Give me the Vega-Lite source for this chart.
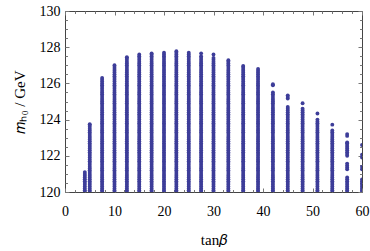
{
  "$schema": "https://vega.github.io/schema/vega-lite/v6.json",
  "width": 297,
  "height": 181,
  "autosize": {"type": "none"},
  "padding": {"left": 65, "top": 11, "right": 8, "bottom": 59},
  "background": "white",
  "config": {
    "view": {"stroke": "#444444", "strokeWidth": 1},
    "axis": {
      "grid": false,
      "domain": false,
      "labelFont": "Liberation Serif",
      "labelFontSize": 14,
      "labelColor": "#000000",
      "titleFont": "Liberation Serif",
      "titleFontSize": 15,
      "titleFontWeight": "normal",
      "titleColor": "#000000",
      "tickColor": "#777777",
      "tickWidth": 1
    }
  },
  "datasets": {
    "pts": [
      {"t":4,"m":120},{"t":4,"m":120.1},{"t":4,"m":120.2},{"t":4,"m":120.3},{"t":4,"m":120.4},{"t":4,"m":120.5},{"t":4,"m":120.6},{"t":4,"m":120.7},{"t":4,"m":120.8},{"t":4,"m":120.9},{"t":4,"m":121},{"t":4,"m":121.1},
      {"t":5,"m":120},{"t":5,"m":120.1},{"t":5,"m":120.2},{"t":5,"m":120.3},{"t":5,"m":120.4},{"t":5,"m":120.5},{"t":5,"m":120.6},{"t":5,"m":120.7},{"t":5,"m":120.8},{"t":5,"m":120.9},{"t":5,"m":121},{"t":5,"m":121.1},{"t":5,"m":121.2},{"t":5,"m":121.3},{"t":5,"m":121.4},{"t":5,"m":121.5},{"t":5,"m":121.6},{"t":5,"m":121.7},{"t":5,"m":121.8},{"t":5,"m":121.9},{"t":5,"m":122},{"t":5,"m":122.1},{"t":5,"m":122.2},{"t":5,"m":122.3},{"t":5,"m":122.4},{"t":5,"m":122.5},{"t":5,"m":122.6},{"t":5,"m":122.7},{"t":5,"m":122.8},{"t":5,"m":122.9},{"t":5,"m":123},{"t":5,"m":123.1},{"t":5,"m":123.2},{"t":5,"m":123.3},{"t":5,"m":123.4},{"t":5,"m":123.5},{"t":5,"m":123.6},{"t":5,"m":123.7},{"t":5,"m":123.75},
      {"t":7.5,"m":120},{"t":7.5,"m":120.1},{"t":7.5,"m":120.2},{"t":7.5,"m":120.3},{"t":7.5,"m":120.4},{"t":7.5,"m":120.5},{"t":7.5,"m":120.6},{"t":7.5,"m":120.7},{"t":7.5,"m":120.8},{"t":7.5,"m":120.9},{"t":7.5,"m":121},{"t":7.5,"m":121.1},{"t":7.5,"m":121.2},{"t":7.5,"m":121.3},{"t":7.5,"m":121.4},{"t":7.5,"m":121.5},{"t":7.5,"m":121.6},{"t":7.5,"m":121.7},{"t":7.5,"m":121.8},{"t":7.5,"m":121.9},{"t":7.5,"m":122},{"t":7.5,"m":122.1},{"t":7.5,"m":122.2},{"t":7.5,"m":122.3},{"t":7.5,"m":122.4},{"t":7.5,"m":122.5},{"t":7.5,"m":122.6},{"t":7.5,"m":122.7},{"t":7.5,"m":122.8},{"t":7.5,"m":122.9},{"t":7.5,"m":123},{"t":7.5,"m":123.1},{"t":7.5,"m":123.2},{"t":7.5,"m":123.3},{"t":7.5,"m":123.4},{"t":7.5,"m":123.5},{"t":7.5,"m":123.6},{"t":7.5,"m":123.7},{"t":7.5,"m":123.8},{"t":7.5,"m":123.9},{"t":7.5,"m":124},{"t":7.5,"m":124.1},{"t":7.5,"m":124.2},{"t":7.5,"m":124.3},{"t":7.5,"m":124.4},{"t":7.5,"m":124.5},{"t":7.5,"m":124.6},{"t":7.5,"m":124.7},{"t":7.5,"m":124.8},{"t":7.5,"m":124.9},{"t":7.5,"m":125},{"t":7.5,"m":125.1},{"t":7.5,"m":125.2},{"t":7.5,"m":125.3},{"t":7.5,"m":125.4},{"t":7.5,"m":125.5},{"t":7.5,"m":125.6},{"t":7.5,"m":125.7},{"t":7.5,"m":125.8},{"t":7.5,"m":125.9},{"t":7.5,"m":126},{"t":7.5,"m":126.1},{"t":7.5,"m":126.2},{"t":7.5,"m":126.3},
      {"t":10,"m":120},{"t":10,"m":120.1},{"t":10,"m":120.2},{"t":10,"m":120.3},{"t":10,"m":120.4},{"t":10,"m":120.5},{"t":10,"m":120.6},{"t":10,"m":120.7},{"t":10,"m":120.8},{"t":10,"m":120.9},{"t":10,"m":121},{"t":10,"m":121.1},{"t":10,"m":121.2},{"t":10,"m":121.3},{"t":10,"m":121.4},{"t":10,"m":121.5},{"t":10,"m":121.6},{"t":10,"m":121.7},{"t":10,"m":121.8},{"t":10,"m":121.9},{"t":10,"m":122},{"t":10,"m":122.1},{"t":10,"m":122.2},{"t":10,"m":122.3},{"t":10,"m":122.4},{"t":10,"m":122.5},{"t":10,"m":122.6},{"t":10,"m":122.7},{"t":10,"m":122.8},{"t":10,"m":122.9},{"t":10,"m":123},{"t":10,"m":123.1},{"t":10,"m":123.2},{"t":10,"m":123.3},{"t":10,"m":123.4},{"t":10,"m":123.5},{"t":10,"m":123.6},{"t":10,"m":123.7},{"t":10,"m":123.8},{"t":10,"m":123.9},{"t":10,"m":124},{"t":10,"m":124.1},{"t":10,"m":124.2},{"t":10,"m":124.3},{"t":10,"m":124.4},{"t":10,"m":124.5},{"t":10,"m":124.6},{"t":10,"m":124.7},{"t":10,"m":124.8},{"t":10,"m":124.9},{"t":10,"m":125},{"t":10,"m":125.1},{"t":10,"m":125.2},{"t":10,"m":125.3},{"t":10,"m":125.4},{"t":10,"m":125.5},{"t":10,"m":125.6},{"t":10,"m":125.7},{"t":10,"m":125.8},{"t":10,"m":125.9},{"t":10,"m":126},{"t":10,"m":126.1},{"t":10,"m":126.2},{"t":10,"m":126.3},{"t":10,"m":126.4},{"t":10,"m":126.5},{"t":10,"m":126.6},{"t":10,"m":126.7},{"t":10,"m":126.8},{"t":10,"m":126.9},{"t":10,"m":127},
      {"t":12.5,"m":120},{"t":12.5,"m":120.1},{"t":12.5,"m":120.2},{"t":12.5,"m":120.3},{"t":12.5,"m":120.4},{"t":12.5,"m":120.5},{"t":12.5,"m":120.6},{"t":12.5,"m":120.7},{"t":12.5,"m":120.8},{"t":12.5,"m":120.9},{"t":12.5,"m":121},{"t":12.5,"m":121.1},{"t":12.5,"m":121.2},{"t":12.5,"m":121.3},{"t":12.5,"m":121.4},{"t":12.5,"m":121.5},{"t":12.5,"m":121.6},{"t":12.5,"m":121.7},{"t":12.5,"m":121.8},{"t":12.5,"m":121.9},{"t":12.5,"m":122},{"t":12.5,"m":122.1},{"t":12.5,"m":122.2},{"t":12.5,"m":122.3},{"t":12.5,"m":122.4},{"t":12.5,"m":122.5},{"t":12.5,"m":122.6},{"t":12.5,"m":122.7},{"t":12.5,"m":122.8},{"t":12.5,"m":122.9},{"t":12.5,"m":123},{"t":12.5,"m":123.1},{"t":12.5,"m":123.2},{"t":12.5,"m":123.3},{"t":12.5,"m":123.4},{"t":12.5,"m":123.5},{"t":12.5,"m":123.6},{"t":12.5,"m":123.7},{"t":12.5,"m":123.8},{"t":12.5,"m":123.9},{"t":12.5,"m":124},{"t":12.5,"m":124.1},{"t":12.5,"m":124.2},{"t":12.5,"m":124.3},{"t":12.5,"m":124.4},{"t":12.5,"m":124.5},{"t":12.5,"m":124.6},{"t":12.5,"m":124.7},{"t":12.5,"m":124.8},{"t":12.5,"m":124.9},{"t":12.5,"m":125},{"t":12.5,"m":125.1},{"t":12.5,"m":125.2},{"t":12.5,"m":125.3},{"t":12.5,"m":125.4},{"t":12.5,"m":125.5},{"t":12.5,"m":125.6},{"t":12.5,"m":125.7},{"t":12.5,"m":125.8},{"t":12.5,"m":125.9},{"t":12.5,"m":126},{"t":12.5,"m":126.1},{"t":12.5,"m":126.2},{"t":12.5,"m":126.3},{"t":12.5,"m":126.4},{"t":12.5,"m":126.5},{"t":12.5,"m":126.6},{"t":12.5,"m":126.7},{"t":12.5,"m":126.8},{"t":12.5,"m":126.9},{"t":12.5,"m":127},{"t":12.5,"m":127.1},{"t":12.5,"m":127.2},{"t":12.5,"m":127.3},{"t":12.5,"m":127.4},{"t":12.5,"m":127.45},
      {"t":15,"m":120},{"t":15,"m":120.1},{"t":15,"m":120.2},{"t":15,"m":120.3},{"t":15,"m":120.4},{"t":15,"m":120.5},{"t":15,"m":120.6},{"t":15,"m":120.7},{"t":15,"m":120.8},{"t":15,"m":120.9},{"t":15,"m":121},{"t":15,"m":121.1},{"t":15,"m":121.2},{"t":15,"m":121.3},{"t":15,"m":121.4},{"t":15,"m":121.5},{"t":15,"m":121.6},{"t":15,"m":121.7},{"t":15,"m":121.8},{"t":15,"m":121.9},{"t":15,"m":122},{"t":15,"m":122.1},{"t":15,"m":122.2},{"t":15,"m":122.3},{"t":15,"m":122.4},{"t":15,"m":122.5},{"t":15,"m":122.6},{"t":15,"m":122.7},{"t":15,"m":122.8},{"t":15,"m":122.9},{"t":15,"m":123},{"t":15,"m":123.1},{"t":15,"m":123.2},{"t":15,"m":123.3},{"t":15,"m":123.4},{"t":15,"m":123.5},{"t":15,"m":123.6},{"t":15,"m":123.7},{"t":15,"m":123.8},{"t":15,"m":123.9},{"t":15,"m":124},{"t":15,"m":124.1},{"t":15,"m":124.2},{"t":15,"m":124.3},{"t":15,"m":124.4},{"t":15,"m":124.5},{"t":15,"m":124.6},{"t":15,"m":124.7},{"t":15,"m":124.8},{"t":15,"m":124.9},{"t":15,"m":125},{"t":15,"m":125.1},{"t":15,"m":125.2},{"t":15,"m":125.3},{"t":15,"m":125.4},{"t":15,"m":125.5},{"t":15,"m":125.6},{"t":15,"m":125.7},{"t":15,"m":125.8},{"t":15,"m":125.9},{"t":15,"m":126},{"t":15,"m":126.1},{"t":15,"m":126.2},{"t":15,"m":126.3},{"t":15,"m":126.4},{"t":15,"m":126.5},{"t":15,"m":126.6},{"t":15,"m":126.7},{"t":15,"m":126.8},{"t":15,"m":126.9},{"t":15,"m":127},{"t":15,"m":127.1},{"t":15,"m":127.2},{"t":15,"m":127.3},{"t":15,"m":127.4},{"t":15,"m":127.5},{"t":15,"m":127.6},
      {"t":17.5,"m":120},{"t":17.5,"m":120.1},{"t":17.5,"m":120.2},{"t":17.5,"m":120.3},{"t":17.5,"m":120.4},{"t":17.5,"m":120.5},{"t":17.5,"m":120.6},{"t":17.5,"m":120.7},{"t":17.5,"m":120.8},{"t":17.5,"m":120.9},{"t":17.5,"m":121},{"t":17.5,"m":121.1},{"t":17.5,"m":121.2},{"t":17.5,"m":121.3},{"t":17.5,"m":121.4},{"t":17.5,"m":121.5},{"t":17.5,"m":121.6},{"t":17.5,"m":121.7},{"t":17.5,"m":121.8},{"t":17.5,"m":121.9},{"t":17.5,"m":122},{"t":17.5,"m":122.1},{"t":17.5,"m":122.2},{"t":17.5,"m":122.3},{"t":17.5,"m":122.4},{"t":17.5,"m":122.5},{"t":17.5,"m":122.6},{"t":17.5,"m":122.7},{"t":17.5,"m":122.8},{"t":17.5,"m":122.9},{"t":17.5,"m":123},{"t":17.5,"m":123.1},{"t":17.5,"m":123.2},{"t":17.5,"m":123.3},{"t":17.5,"m":123.4},{"t":17.5,"m":123.5},{"t":17.5,"m":123.6},{"t":17.5,"m":123.7},{"t":17.5,"m":123.8},{"t":17.5,"m":123.9},{"t":17.5,"m":124},{"t":17.5,"m":124.1},{"t":17.5,"m":124.2},{"t":17.5,"m":124.3},{"t":17.5,"m":124.4},{"t":17.5,"m":124.5},{"t":17.5,"m":124.6},{"t":17.5,"m":124.7},{"t":17.5,"m":124.8},{"t":17.5,"m":124.9},{"t":17.5,"m":125},{"t":17.5,"m":125.1},{"t":17.5,"m":125.2},{"t":17.5,"m":125.3},{"t":17.5,"m":125.4},{"t":17.5,"m":125.5},{"t":17.5,"m":125.6},{"t":17.5,"m":125.7},{"t":17.5,"m":125.8},{"t":17.5,"m":125.9},{"t":17.5,"m":126},{"t":17.5,"m":126.1},{"t":17.5,"m":126.2},{"t":17.5,"m":126.3},{"t":17.5,"m":126.4},{"t":17.5,"m":126.5},{"t":17.5,"m":126.6},{"t":17.5,"m":126.7},{"t":17.5,"m":126.8},{"t":17.5,"m":126.9},{"t":17.5,"m":127},{"t":17.5,"m":127.1},{"t":17.5,"m":127.2},{"t":17.5,"m":127.3},{"t":17.5,"m":127.4},{"t":17.5,"m":127.5},{"t":17.5,"m":127.6},{"t":17.5,"m":127.66},
      {"t":20,"m":120},{"t":20,"m":120.1},{"t":20,"m":120.2},{"t":20,"m":120.3},{"t":20,"m":120.4},{"t":20,"m":120.5},{"t":20,"m":120.6},{"t":20,"m":120.7},{"t":20,"m":120.8},{"t":20,"m":120.9},{"t":20,"m":121},{"t":20,"m":121.1},{"t":20,"m":121.2},{"t":20,"m":121.3},{"t":20,"m":121.4},{"t":20,"m":121.5},{"t":20,"m":121.6},{"t":20,"m":121.7},{"t":20,"m":121.8},{"t":20,"m":121.9},{"t":20,"m":122},{"t":20,"m":122.1},{"t":20,"m":122.2},{"t":20,"m":122.3},{"t":20,"m":122.4},{"t":20,"m":122.5},{"t":20,"m":122.6},{"t":20,"m":122.7},{"t":20,"m":122.8},{"t":20,"m":122.9},{"t":20,"m":123},{"t":20,"m":123.1},{"t":20,"m":123.2},{"t":20,"m":123.3},{"t":20,"m":123.4},{"t":20,"m":123.5},{"t":20,"m":123.6},{"t":20,"m":123.7},{"t":20,"m":123.8},{"t":20,"m":123.9},{"t":20,"m":124},{"t":20,"m":124.1},{"t":20,"m":124.2},{"t":20,"m":124.3},{"t":20,"m":124.4},{"t":20,"m":124.5},{"t":20,"m":124.6},{"t":20,"m":124.7},{"t":20,"m":124.8},{"t":20,"m":124.9},{"t":20,"m":125},{"t":20,"m":125.1},{"t":20,"m":125.2},{"t":20,"m":125.3},{"t":20,"m":125.4},{"t":20,"m":125.5},{"t":20,"m":125.6},{"t":20,"m":125.7},{"t":20,"m":125.8},{"t":20,"m":125.9},{"t":20,"m":126},{"t":20,"m":126.1},{"t":20,"m":126.2},{"t":20,"m":126.3},{"t":20,"m":126.4},{"t":20,"m":126.5},{"t":20,"m":126.6},{"t":20,"m":126.7},{"t":20,"m":126.8},{"t":20,"m":126.9},{"t":20,"m":127},{"t":20,"m":127.1},{"t":20,"m":127.2},{"t":20,"m":127.3},{"t":20,"m":127.4},{"t":20,"m":127.5},{"t":20,"m":127.6},{"t":20,"m":127.7},
      {"t":22.5,"m":120},{"t":22.5,"m":120.1},{"t":22.5,"m":120.2},{"t":22.5,"m":120.3},{"t":22.5,"m":120.4},{"t":22.5,"m":120.5},{"t":22.5,"m":120.6},{"t":22.5,"m":120.7},{"t":22.5,"m":120.8},{"t":22.5,"m":120.9},{"t":22.5,"m":121},{"t":22.5,"m":121.1},{"t":22.5,"m":121.2},{"t":22.5,"m":121.3},{"t":22.5,"m":121.4},{"t":22.5,"m":121.5},{"t":22.5,"m":121.6},{"t":22.5,"m":121.7},{"t":22.5,"m":121.8},{"t":22.5,"m":121.9},{"t":22.5,"m":122},{"t":22.5,"m":122.1},{"t":22.5,"m":122.2},{"t":22.5,"m":122.3},{"t":22.5,"m":122.4},{"t":22.5,"m":122.5},{"t":22.5,"m":122.6},{"t":22.5,"m":122.7},{"t":22.5,"m":122.8},{"t":22.5,"m":122.9},{"t":22.5,"m":123},{"t":22.5,"m":123.1},{"t":22.5,"m":123.2},{"t":22.5,"m":123.3},{"t":22.5,"m":123.4},{"t":22.5,"m":123.5},{"t":22.5,"m":123.6},{"t":22.5,"m":123.7},{"t":22.5,"m":123.8},{"t":22.5,"m":123.9},{"t":22.5,"m":124},{"t":22.5,"m":124.1},{"t":22.5,"m":124.2},{"t":22.5,"m":124.3},{"t":22.5,"m":124.4},{"t":22.5,"m":124.5},{"t":22.5,"m":124.6},{"t":22.5,"m":124.7},{"t":22.5,"m":124.8},{"t":22.5,"m":124.9},{"t":22.5,"m":125},{"t":22.5,"m":125.1},{"t":22.5,"m":125.2},{"t":22.5,"m":125.3},{"t":22.5,"m":125.4},{"t":22.5,"m":125.5},{"t":22.5,"m":125.6},{"t":22.5,"m":125.7},{"t":22.5,"m":125.8},{"t":22.5,"m":125.9},{"t":22.5,"m":126},{"t":22.5,"m":126.1},{"t":22.5,"m":126.2},{"t":22.5,"m":126.3},{"t":22.5,"m":126.4},{"t":22.5,"m":126.5},{"t":22.5,"m":126.6},{"t":22.5,"m":126.7},{"t":22.5,"m":126.8},{"t":22.5,"m":126.9},{"t":22.5,"m":127},{"t":22.5,"m":127.1},{"t":22.5,"m":127.2},{"t":22.5,"m":127.3},{"t":22.5,"m":127.4},{"t":22.5,"m":127.5},{"t":22.5,"m":127.6},{"t":22.5,"m":127.7},{"t":22.5,"m":127.78},
      {"t":25,"m":120},{"t":25,"m":120.1},{"t":25,"m":120.2},{"t":25,"m":120.3},{"t":25,"m":120.4},{"t":25,"m":120.5},{"t":25,"m":120.6},{"t":25,"m":120.7},{"t":25,"m":120.8},{"t":25,"m":120.9},{"t":25,"m":121},{"t":25,"m":121.1},{"t":25,"m":121.2},{"t":25,"m":121.3},{"t":25,"m":121.4},{"t":25,"m":121.5},{"t":25,"m":121.6},{"t":25,"m":121.7},{"t":25,"m":121.8},{"t":25,"m":121.9},{"t":25,"m":122},{"t":25,"m":122.1},{"t":25,"m":122.2},{"t":25,"m":122.3},{"t":25,"m":122.4},{"t":25,"m":122.5},{"t":25,"m":122.6},{"t":25,"m":122.7},{"t":25,"m":122.8},{"t":25,"m":122.9},{"t":25,"m":123},{"t":25,"m":123.1},{"t":25,"m":123.2},{"t":25,"m":123.3},{"t":25,"m":123.4},{"t":25,"m":123.5},{"t":25,"m":123.6},{"t":25,"m":123.7},{"t":25,"m":123.8},{"t":25,"m":123.9},{"t":25,"m":124},{"t":25,"m":124.1},{"t":25,"m":124.2},{"t":25,"m":124.3},{"t":25,"m":124.4},{"t":25,"m":124.5},{"t":25,"m":124.6},{"t":25,"m":124.7},{"t":25,"m":124.8},{"t":25,"m":124.9},{"t":25,"m":125},{"t":25,"m":125.1},{"t":25,"m":125.2},{"t":25,"m":125.3},{"t":25,"m":125.4},{"t":25,"m":125.5},{"t":25,"m":125.6},{"t":25,"m":125.7},{"t":25,"m":125.8},{"t":25,"m":125.9},{"t":25,"m":126},{"t":25,"m":126.1},{"t":25,"m":126.2},{"t":25,"m":126.3},{"t":25,"m":126.4},{"t":25,"m":126.5},{"t":25,"m":126.6},{"t":25,"m":126.7},{"t":25,"m":126.8},{"t":25,"m":126.9},{"t":25,"m":127},{"t":25,"m":127.1},{"t":25,"m":127.2},{"t":25,"m":127.3},{"t":25,"m":127.4},{"t":25,"m":127.5},{"t":25,"m":127.6},{"t":25,"m":127.7},
      {"t":27.5,"m":120},{"t":27.5,"m":120.1},{"t":27.5,"m":120.2},{"t":27.5,"m":120.3},{"t":27.5,"m":120.4},{"t":27.5,"m":120.5},{"t":27.5,"m":120.6},{"t":27.5,"m":120.7},{"t":27.5,"m":120.8},{"t":27.5,"m":120.9},{"t":27.5,"m":121},{"t":27.5,"m":121.1},{"t":27.5,"m":121.2},{"t":27.5,"m":121.3},{"t":27.5,"m":121.4},{"t":27.5,"m":121.5},{"t":27.5,"m":121.6},{"t":27.5,"m":121.7},{"t":27.5,"m":121.8},{"t":27.5,"m":121.9},{"t":27.5,"m":122},{"t":27.5,"m":122.1},{"t":27.5,"m":122.2},{"t":27.5,"m":122.3},{"t":27.5,"m":122.4},{"t":27.5,"m":122.5},{"t":27.5,"m":122.6},{"t":27.5,"m":122.7},{"t":27.5,"m":122.8},{"t":27.5,"m":122.9},{"t":27.5,"m":123},{"t":27.5,"m":123.1},{"t":27.5,"m":123.2},{"t":27.5,"m":123.3},{"t":27.5,"m":123.4},{"t":27.5,"m":123.5},{"t":27.5,"m":123.6},{"t":27.5,"m":123.7},{"t":27.5,"m":123.8},{"t":27.5,"m":123.9},{"t":27.5,"m":124},{"t":27.5,"m":124.1},{"t":27.5,"m":124.2},{"t":27.5,"m":124.3},{"t":27.5,"m":124.4},{"t":27.5,"m":124.5},{"t":27.5,"m":124.6},{"t":27.5,"m":124.7},{"t":27.5,"m":124.8},{"t":27.5,"m":124.9},{"t":27.5,"m":125},{"t":27.5,"m":125.1},{"t":27.5,"m":125.2},{"t":27.5,"m":125.3},{"t":27.5,"m":125.4},{"t":27.5,"m":125.5},{"t":27.5,"m":125.6},{"t":27.5,"m":125.7},{"t":27.5,"m":125.8},{"t":27.5,"m":125.9},{"t":27.5,"m":126},{"t":27.5,"m":126.1},{"t":27.5,"m":126.2},{"t":27.5,"m":126.3},{"t":27.5,"m":126.4},{"t":27.5,"m":126.5},{"t":27.5,"m":126.6},{"t":27.5,"m":126.7},{"t":27.5,"m":126.8},{"t":27.5,"m":126.9},{"t":27.5,"m":127},{"t":27.5,"m":127.1},{"t":27.5,"m":127.2},{"t":27.5,"m":127.3},{"t":27.5,"m":127.4},{"t":27.5,"m":127.5},{"t":27.5,"m":127.66},
      {"t":30,"m":120},{"t":30,"m":120.1},{"t":30,"m":120.2},{"t":30,"m":120.3},{"t":30,"m":120.4},{"t":30,"m":120.5},{"t":30,"m":120.6},{"t":30,"m":120.7},{"t":30,"m":120.8},{"t":30,"m":120.9},{"t":30,"m":121},{"t":30,"m":121.1},{"t":30,"m":121.2},{"t":30,"m":121.3},{"t":30,"m":121.4},{"t":30,"m":121.5},{"t":30,"m":121.6},{"t":30,"m":121.7},{"t":30,"m":121.8},{"t":30,"m":121.9},{"t":30,"m":122},{"t":30,"m":122.1},{"t":30,"m":122.2},{"t":30,"m":122.3},{"t":30,"m":122.4},{"t":30,"m":122.5},{"t":30,"m":122.6},{"t":30,"m":122.7},{"t":30,"m":122.8},{"t":30,"m":122.9},{"t":30,"m":123},{"t":30,"m":123.1},{"t":30,"m":123.2},{"t":30,"m":123.3},{"t":30,"m":123.4},{"t":30,"m":123.5},{"t":30,"m":123.6},{"t":30,"m":123.7},{"t":30,"m":123.8},{"t":30,"m":123.9},{"t":30,"m":124},{"t":30,"m":124.1},{"t":30,"m":124.2},{"t":30,"m":124.3},{"t":30,"m":124.4},{"t":30,"m":124.5},{"t":30,"m":124.6},{"t":30,"m":124.7},{"t":30,"m":124.8},{"t":30,"m":124.9},{"t":30,"m":125},{"t":30,"m":125.1},{"t":30,"m":125.2},{"t":30,"m":125.3},{"t":30,"m":125.4},{"t":30,"m":125.5},{"t":30,"m":125.6},{"t":30,"m":125.7},{"t":30,"m":125.8},{"t":30,"m":125.9},{"t":30,"m":126},{"t":30,"m":126.1},{"t":30,"m":126.2},{"t":30,"m":126.3},{"t":30,"m":126.4},{"t":30,"m":126.5},{"t":30,"m":126.6},{"t":30,"m":126.7},{"t":30,"m":126.8},{"t":30,"m":126.9},{"t":30,"m":127},{"t":30,"m":127.1},{"t":30,"m":127.2},{"t":30,"m":127.3},{"t":30,"m":127.4},{"t":30,"m":127.6},
      {"t":33,"m":120},{"t":33,"m":120.1},{"t":33,"m":120.2},{"t":33,"m":120.3},{"t":33,"m":120.4},{"t":33,"m":120.5},{"t":33,"m":120.6},{"t":33,"m":120.7},{"t":33,"m":120.8},{"t":33,"m":120.9},{"t":33,"m":121},{"t":33,"m":121.1},{"t":33,"m":121.2},{"t":33,"m":121.3},{"t":33,"m":121.4},{"t":33,"m":121.5},{"t":33,"m":121.6},{"t":33,"m":121.7},{"t":33,"m":121.8},{"t":33,"m":121.9},{"t":33,"m":122},{"t":33,"m":122.1},{"t":33,"m":122.2},{"t":33,"m":122.3},{"t":33,"m":122.4},{"t":33,"m":122.5},{"t":33,"m":122.6},{"t":33,"m":122.7},{"t":33,"m":122.8},{"t":33,"m":122.9},{"t":33,"m":123},{"t":33,"m":123.1},{"t":33,"m":123.2},{"t":33,"m":123.3},{"t":33,"m":123.4},{"t":33,"m":123.5},{"t":33,"m":123.6},{"t":33,"m":123.7},{"t":33,"m":123.8},{"t":33,"m":123.9},{"t":33,"m":124},{"t":33,"m":124.1},{"t":33,"m":124.2},{"t":33,"m":124.3},{"t":33,"m":124.4},{"t":33,"m":124.5},{"t":33,"m":124.6},{"t":33,"m":124.7},{"t":33,"m":124.8},{"t":33,"m":124.9},{"t":33,"m":125},{"t":33,"m":125.1},{"t":33,"m":125.2},{"t":33,"m":125.3},{"t":33,"m":125.4},{"t":33,"m":125.5},{"t":33,"m":125.6},{"t":33,"m":125.7},{"t":33,"m":125.8},{"t":33,"m":125.9},{"t":33,"m":126},{"t":33,"m":126.1},{"t":33,"m":126.2},{"t":33,"m":126.3},{"t":33,"m":126.4},{"t":33,"m":126.5},{"t":33,"m":126.6},{"t":33,"m":126.7},{"t":33,"m":126.8},{"t":33,"m":126.9},{"t":33,"m":127},{"t":33,"m":127.1},{"t":33,"m":127.2},{"t":33,"m":127.28},
      {"t":36,"m":120},{"t":36,"m":120.1},{"t":36,"m":120.2},{"t":36,"m":120.3},{"t":36,"m":120.4},{"t":36,"m":120.5},{"t":36,"m":120.6},{"t":36,"m":120.7},{"t":36,"m":120.8},{"t":36,"m":120.9},{"t":36,"m":121},{"t":36,"m":121.1},{"t":36,"m":121.2},{"t":36,"m":121.3},{"t":36,"m":121.4},{"t":36,"m":121.5},{"t":36,"m":121.6},{"t":36,"m":121.7},{"t":36,"m":121.8},{"t":36,"m":121.9},{"t":36,"m":122},{"t":36,"m":122.1},{"t":36,"m":122.2},{"t":36,"m":122.3},{"t":36,"m":122.4},{"t":36,"m":122.5},{"t":36,"m":122.6},{"t":36,"m":122.7},{"t":36,"m":122.8},{"t":36,"m":122.9},{"t":36,"m":123},{"t":36,"m":123.1},{"t":36,"m":123.2},{"t":36,"m":123.3},{"t":36,"m":123.4},{"t":36,"m":123.5},{"t":36,"m":123.6},{"t":36,"m":123.7},{"t":36,"m":123.8},{"t":36,"m":123.9},{"t":36,"m":124},{"t":36,"m":124.1},{"t":36,"m":124.2},{"t":36,"m":124.3},{"t":36,"m":124.4},{"t":36,"m":124.5},{"t":36,"m":124.6},{"t":36,"m":124.7},{"t":36,"m":124.8},{"t":36,"m":124.9},{"t":36,"m":125},{"t":36,"m":125.1},{"t":36,"m":125.2},{"t":36,"m":125.3},{"t":36,"m":125.4},{"t":36,"m":125.5},{"t":36,"m":125.6},{"t":36,"m":125.7},{"t":36,"m":125.8},{"t":36,"m":125.9},{"t":36,"m":126},{"t":36,"m":126.1},{"t":36,"m":126.2},{"t":36,"m":126.3},{"t":36,"m":126.4},{"t":36,"m":126.5},{"t":36,"m":126.6},{"t":36,"m":126.7},{"t":36,"m":126.8},{"t":36,"m":126.9},{"t":36,"m":126.96},
      {"t":39,"m":120},{"t":39,"m":120.1},{"t":39,"m":120.2},{"t":39,"m":120.3},{"t":39,"m":120.4},{"t":39,"m":120.5},{"t":39,"m":120.6},{"t":39,"m":120.7},{"t":39,"m":120.8},{"t":39,"m":120.9},{"t":39,"m":121},{"t":39,"m":121.1},{"t":39,"m":121.2},{"t":39,"m":121.3},{"t":39,"m":121.4},{"t":39,"m":121.5},{"t":39,"m":121.6},{"t":39,"m":121.7},{"t":39,"m":121.8},{"t":39,"m":121.9},{"t":39,"m":122},{"t":39,"m":122.1},{"t":39,"m":122.2},{"t":39,"m":122.3},{"t":39,"m":122.4},{"t":39,"m":122.5},{"t":39,"m":122.6},{"t":39,"m":122.7},{"t":39,"m":122.8},{"t":39,"m":122.9},{"t":39,"m":123},{"t":39,"m":123.1},{"t":39,"m":123.2},{"t":39,"m":123.3},{"t":39,"m":123.4},{"t":39,"m":123.5},{"t":39,"m":123.6},{"t":39,"m":123.7},{"t":39,"m":123.8},{"t":39,"m":123.9},{"t":39,"m":124},{"t":39,"m":124.1},{"t":39,"m":124.2},{"t":39,"m":124.3},{"t":39,"m":124.4},{"t":39,"m":124.5},{"t":39,"m":124.6},{"t":39,"m":124.7},{"t":39,"m":124.8},{"t":39,"m":124.9},{"t":39,"m":125},{"t":39,"m":125.1},{"t":39,"m":125.2},{"t":39,"m":125.3},{"t":39,"m":125.4},{"t":39,"m":125.5},{"t":39,"m":125.6},{"t":39,"m":125.7},{"t":39,"m":125.8},{"t":39,"m":125.9},{"t":39,"m":126},{"t":39,"m":126.1},{"t":39,"m":126.2},{"t":39,"m":126.3},{"t":39,"m":126.4},{"t":39,"m":126.5},{"t":39,"m":126.6},{"t":39,"m":126.7},{"t":39,"m":126.8},
      {"t":42,"m":120},{"t":42,"m":120.1},{"t":42,"m":120.2},{"t":42,"m":120.3},{"t":42,"m":120.4},{"t":42,"m":120.5},{"t":42,"m":120.6},{"t":42,"m":120.7},{"t":42,"m":120.8},{"t":42,"m":120.9},{"t":42,"m":121},{"t":42,"m":121.1},{"t":42,"m":121.2},{"t":42,"m":121.3},{"t":42,"m":121.4},{"t":42,"m":121.5},{"t":42,"m":121.6},{"t":42,"m":121.7},{"t":42,"m":121.8},{"t":42,"m":121.9},{"t":42,"m":122},{"t":42,"m":122.1},{"t":42,"m":122.2},{"t":42,"m":122.3},{"t":42,"m":122.4},{"t":42,"m":122.5},{"t":42,"m":122.6},{"t":42,"m":122.7},{"t":42,"m":122.8},{"t":42,"m":122.9},{"t":42,"m":123},{"t":42,"m":123.1},{"t":42,"m":123.2},{"t":42,"m":123.3},{"t":42,"m":123.4},{"t":42,"m":123.5},{"t":42,"m":123.6},{"t":42,"m":123.7},{"t":42,"m":123.8},{"t":42,"m":123.9},{"t":42,"m":124},{"t":42,"m":124.1},{"t":42,"m":124.2},{"t":42,"m":124.3},{"t":42,"m":124.4},{"t":42,"m":124.5},{"t":42,"m":124.6},{"t":42,"m":124.7},{"t":42,"m":124.8},{"t":42,"m":124.9},{"t":42,"m":125},{"t":42,"m":125.1},{"t":42,"m":125.2},{"t":42,"m":125.3},{"t":42,"m":125.4},{"t":42,"m":125.5},{"t":42,"m":125.9},{"t":42,"m":125.95},
      {"t":45,"m":120},{"t":45,"m":120.1},{"t":45,"m":120.2},{"t":45,"m":120.3},{"t":45,"m":120.4},{"t":45,"m":120.5},{"t":45,"m":120.6},{"t":45,"m":120.7},{"t":45,"m":120.8},{"t":45,"m":120.9},{"t":45,"m":121},{"t":45,"m":121.1},{"t":45,"m":121.2},{"t":45,"m":121.3},{"t":45,"m":121.4},{"t":45,"m":121.5},{"t":45,"m":121.6},{"t":45,"m":121.7},{"t":45,"m":121.8},{"t":45,"m":121.9},{"t":45,"m":122},{"t":45,"m":122.1},{"t":45,"m":122.2},{"t":45,"m":122.3},{"t":45,"m":122.4},{"t":45,"m":122.5},{"t":45,"m":122.6},{"t":45,"m":122.7},{"t":45,"m":122.8},{"t":45,"m":122.9},{"t":45,"m":123},{"t":45,"m":123.1},{"t":45,"m":123.2},{"t":45,"m":123.3},{"t":45,"m":123.4},{"t":45,"m":123.5},{"t":45,"m":123.6},{"t":45,"m":123.7},{"t":45,"m":123.8},{"t":45,"m":123.9},{"t":45,"m":124},{"t":45,"m":124.1},{"t":45,"m":124.2},{"t":45,"m":124.3},{"t":45,"m":124.4},{"t":45,"m":124.5},{"t":45,"m":124.6},{"t":45,"m":124.7},{"t":45,"m":125.16},{"t":45,"m":125.25},{"t":45,"m":125.34},
      {"t":48,"m":120},{"t":48,"m":120.1},{"t":48,"m":120.2},{"t":48,"m":120.3},{"t":48,"m":120.4},{"t":48,"m":120.5},{"t":48,"m":120.6},{"t":48,"m":120.7},{"t":48,"m":120.8},{"t":48,"m":120.9},{"t":48,"m":121},{"t":48,"m":121.1},{"t":48,"m":121.2},{"t":48,"m":121.3},{"t":48,"m":121.4},{"t":48,"m":121.5},{"t":48,"m":121.6},{"t":48,"m":121.7},{"t":48,"m":121.8},{"t":48,"m":121.9},{"t":48,"m":122},{"t":48,"m":122.1},{"t":48,"m":122.2},{"t":48,"m":122.3},{"t":48,"m":122.4},{"t":48,"m":122.5},{"t":48,"m":122.6},{"t":48,"m":122.7},{"t":48,"m":122.8},{"t":48,"m":122.9},{"t":48,"m":123},{"t":48,"m":123.1},{"t":48,"m":123.2},{"t":48,"m":123.3},{"t":48,"m":123.4},{"t":48,"m":123.5},{"t":48,"m":123.6},{"t":48,"m":123.7},{"t":48,"m":123.8},{"t":48,"m":123.9},{"t":48,"m":124},{"t":48,"m":124.1},{"t":48,"m":124.2},{"t":48,"m":124.3},{"t":48,"m":124.4},{"t":48,"m":124.5},{"t":48,"m":124.6},{"t":48,"m":124.9},
      {"t":51,"m":120},{"t":51,"m":120.1},{"t":51,"m":120.2},{"t":51,"m":120.3},{"t":51,"m":120.4},{"t":51,"m":120.5},{"t":51,"m":120.6},{"t":51,"m":120.7},{"t":51,"m":120.8},{"t":51,"m":120.9},{"t":51,"m":121},{"t":51,"m":121.1},{"t":51,"m":121.2},{"t":51,"m":121.3},{"t":51,"m":121.4},{"t":51,"m":121.5},{"t":51,"m":121.6},{"t":51,"m":121.7},{"t":51,"m":121.8},{"t":51,"m":121.9},{"t":51,"m":122},{"t":51,"m":122.1},{"t":51,"m":122.2},{"t":51,"m":122.3},{"t":51,"m":122.4},{"t":51,"m":122.5},{"t":51,"m":122.6},{"t":51,"m":122.7},{"t":51,"m":122.8},{"t":51,"m":122.9},{"t":51,"m":123},{"t":51,"m":123.1},{"t":51,"m":123.2},{"t":51,"m":123.3},{"t":51,"m":123.4},{"t":51,"m":123.5},{"t":51,"m":123.6},{"t":51,"m":123.7},{"t":51,"m":123.8},{"t":51,"m":123.9},{"t":51,"m":124},{"t":51,"m":124.34},
      {"t":54,"m":120},{"t":54,"m":120.1},{"t":54,"m":120.2},{"t":54,"m":120.3},{"t":54,"m":120.4},{"t":54,"m":120.5},{"t":54,"m":120.6},{"t":54,"m":120.7},{"t":54,"m":120.8},{"t":54,"m":120.9},{"t":54,"m":121},{"t":54,"m":121.1},{"t":54,"m":121.2},{"t":54,"m":121.3},{"t":54,"m":121.4},{"t":54,"m":121.5},{"t":54,"m":121.6},{"t":54,"m":121.7},{"t":54,"m":121.8},{"t":54,"m":121.9},{"t":54,"m":122},{"t":54,"m":122.1},{"t":54,"m":122.2},{"t":54,"m":122.3},{"t":54,"m":122.4},{"t":54,"m":122.5},{"t":54,"m":122.6},{"t":54,"m":122.7},{"t":54,"m":122.8},{"t":54,"m":122.9},{"t":54,"m":123},{"t":54,"m":123.1},{"t":54,"m":123.2},{"t":54,"m":123.3},{"t":54,"m":123.4},{"t":54,"m":123.72},
      {"t":57,"m":120},{"t":57,"m":120.1},{"t":57,"m":120.2},{"t":57,"m":120.3},{"t":57,"m":120.4},{"t":57,"m":120.5},{"t":57,"m":120.6},{"t":57,"m":120.7},{"t":57,"m":120.8},{"t":57,"m":121.26},{"t":57,"m":121.36},{"t":57,"m":121.46},{"t":57,"m":121.57},{"t":57,"m":122},{"t":57,"m":122.1},{"t":57,"m":122.2},{"t":57,"m":122.3},{"t":57,"m":122.4},{"t":57,"m":122.5},{"t":57,"m":122.6},{"t":57,"m":122.7},{"t":57,"m":122.74},{"t":57,"m":123.1},{"t":57,"m":123.2},
      {"t":60,"m":120},{"t":60,"m":120.1},{"t":60,"m":120.2},{"t":60,"m":120.3},{"t":60,"m":120.4},{"t":60,"m":120.5},{"t":60,"m":120.6},{"t":60,"m":120.7},{"t":60,"m":121.26},{"t":60,"m":121.39},{"t":60,"m":121.9},{"t":60,"m":122.06},{"t":60,"m":122.6}
    ],
    "anchor": [{"t": 30, "m": 125}]
  },
  "layer": [
    {
      "data": {"name": "pts"},
      "mark": {"type": "circle", "size": 15, "color": "#3d3d99", "opacity": 1, "clip": true},
      "encoding": {
        "x": {
          "field": "t", "type": "quantitative",
          "scale": {"domain": [0, 60], "nice": false, "zero": false},
          "axis": {"orient": "bottom", "values": [0, 10, 20, 30, 40, 50, 60], "tickSize": -4, "labelPadding": 16, "labelFlush": false, "labelOverlap": false, "title": "tan𝛽", "titlePadding": 14}
        },
        "y": {
          "field": "m", "type": "quantitative",
          "scale": {"domain": [120, 130], "nice": false, "zero": false},
          "axis": {"orient": "left", "values": [120, 122, 124, 126, 128, 130], "tickSize": -4, "labelPadding": 9, "labelFlush": false, "labelOverlap": false, "title": "𝑚ₕ₀ / GeV", "titlePadding": 12}
        }
      }
    },
    {
      "data": {"name": "anchor"},
      "mark": {"type": "point", "opacity": 0},
      "encoding": {
        "x": {"field": "t", "type": "quantitative", "axis": {"orient": "top", "values": [0, 10, 20, 30, 40, 50, 60], "tickSize": -4, "labels": false, "title": null}},
        "y": {"field": "m", "type": "quantitative", "axis": {"orient": "right", "values": [120, 122, 124, 126, 128, 130], "tickSize": -4, "labels": false, "title": null}}
      }
    },
    {
      "data": {"name": "anchor"},
      "mark": {"type": "point", "opacity": 0},
      "encoding": {
        "x": {"field": "t", "type": "quantitative", "axis": {"orient": "bottom", "values": [2, 4, 6, 8, 12, 14, 16, 18, 22, 24, 26, 28, 32, 34, 36, 38, 42, 44, 46, 48, 52, 54, 56, 58], "tickSize": -2.5, "labels": false, "title": null}},
        "y": {"field": "m", "type": "quantitative", "axis": {"orient": "left", "values": [120.5, 121, 121.5, 122.5, 123, 123.5, 124.5, 125, 125.5, 126.5, 127, 127.5, 128.5, 129, 129.5], "tickSize": -2.5, "labels": false, "title": null}}
      }
    },
    {
      "data": {"name": "anchor"},
      "mark": {"type": "point", "opacity": 0},
      "encoding": {
        "x": {"field": "t", "type": "quantitative", "axis": {"orient": "top", "values": [2, 4, 6, 8, 12, 14, 16, 18, 22, 24, 26, 28, 32, 34, 36, 38, 42, 44, 46, 48, 52, 54, 56, 58], "tickSize": -2.5, "labels": false, "title": null}},
        "y": {"field": "m", "type": "quantitative", "axis": {"orient": "right", "values": [120.5, 121, 121.5, 122.5, 123, 123.5, 124.5, 125, 125.5, 126.5, 127, 127.5, 128.5, 129, 129.5], "tickSize": -2.5, "labels": false, "title": null}}
      }
    }
  ],
  "resolve": {"axis": {"x": "independent", "y": "independent"}}
}
